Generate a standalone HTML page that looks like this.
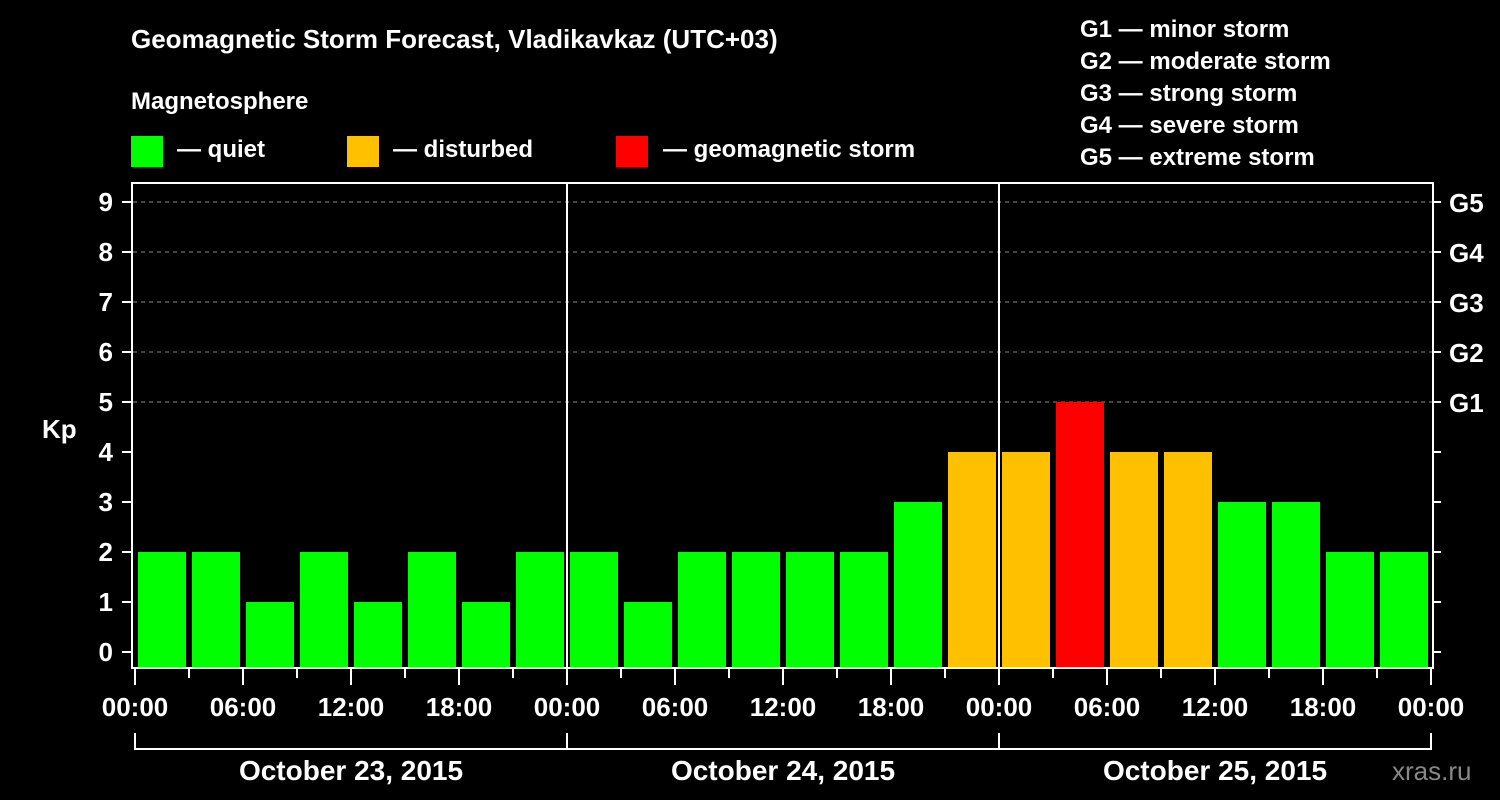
<!DOCTYPE html>
<html><head><meta charset="utf-8"><style>
body{margin:0;background:#000;width:1500px;height:800px;overflow:hidden}
svg{display:block;font-family:"Liberation Sans",Arial,sans-serif;font-weight:bold}
</style></head><body>
<svg id="c" width="1500" height="800" viewBox="0 0 1500 800" xmlns="http://www.w3.org/2000/svg">
<rect width="1500" height="800" fill="#000"/>
<text x="131" y="48" fill="#fff" font-size="26">Geomagnetic Storm Forecast, Vladikavkaz (UTC+03)</text>
<text x="131" y="109" fill="#fff" font-size="24">Magnetosphere</text>
<g font-size="24" fill="#fff">
<rect x="131" y="136" width="32" height="31" fill="#00ff00"/>
<text x="177" y="157">— quiet</text>
<rect x="347" y="136" width="32" height="31" fill="#ffc000"/>
<text x="393" y="157">— disturbed</text>
<rect x="616" y="136" width="32" height="31" fill="#ff0000"/>
<text x="663" y="157">— geomagnetic storm</text>
</g>
<g font-size="24" fill="#fff">
<text x="1080" y="37">G1 — minor storm</text>
<text x="1080" y="69">G2 — moderate storm</text>
<text x="1080" y="101">G3 — strong storm</text>
<text x="1080" y="133">G4 — severe storm</text>
<text x="1080" y="165">G5 — extreme storm</text>
</g>
<g id="grid"></g>
<g id="bars"></g>
<rect x="132" y="183" width="1301" height="485" fill="none" stroke="#fff" stroke-width="2"/>
<g id="axes"></g>
<text x="42" y="438" fill="#fff" font-size="26">Kp</text>
<text x="1392" y="780" fill="#888" font-size="26" font-weight="normal">xras.ru</text>
</svg>
<script>
const kpValues=[2,2,1,2,1,2,1,2, 2,1,2,2,2,2,3,4, 4,5,4,4,3,3,2,2];
const kpTicks=[0,1,2,3,4,5,6,7,8,9];
const gLabels=["G1","G2","G3","G4","G5"];
const hourLabels=["00:00","06:00","12:00","18:00"];
const dayLabels=["October 23, 2015","October 24, 2015","October 25, 2015"];
const NS="http://www.w3.org/2000/svg";
const x0=135, dayW=432, slotW=dayW/8;
const yScale=v=>652-50*v;
const xScale=i=>x0+i*slotW;
function mk(t,a,p){const e=document.createElementNS(NS,t);for(const k in a)e.setAttribute(k,a[k]);p.appendChild(e);return e;}
const grid=document.getElementById('grid'),bars=document.getElementById('bars'),axes=document.getElementById('axes');
function col(v){return v>=5?"#ff0000":v>=4?"#ffc000":"#00ff00";}
kpTicks.forEach(v=>{
  const y=yScale(v);
  if(v>=5){const l=mk('line',{x1:133,x2:1432,y1:y,y2:y,stroke:'#888','stroke-dasharray':'4,4','stroke-width':1},grid);
  
  }
  const t=mk('line',{x1:122,x2:132,y1:y,y2:y,stroke:'#fff','stroke-width':2},axes);
  
  
  const r=mk('line',{x1:1433,x2:1441,y1:y,y2:y,stroke:'#fff','stroke-width':2},axes);
  
  
  const tx=mk('text',{x:113,y:y+9,fill:'#fff','font-size':26,'text-anchor':'end'},axes);
  tx.textContent=v;
  
  
});
gLabels.forEach((g,i)=>{
  const tx=mk('text',{x:1449,y:yScale(5+i)+10,fill:'#fff','font-size':26},axes);
  tx.textContent=g;
  
  
});
kpValues.forEach((v,i)=>{
  const y=yScale(v);
  const b=mk('rect',{x:xScale(i)+3,y:y,width:48,height:668-y,fill:col(v)},bars);
  
  
});
for(let d=1;d<3;d++){const l=mk('line',{x1:x0+d*dayW,x2:x0+d*dayW,y1:183,y2:668,stroke:'#fff','stroke-width':2},axes);
  
  }
for(let i=0;i<=24;i++){
  const x=xScale(i),major=i%2==0;
  const t=mk('line',{x1:x,x2:x,y1:669,y2:major?685:678,stroke:'#fff','stroke-width':2},axes);
  
  
  if(major){const tx=mk('text',{x:x,y:716,fill:'#fff','font-size':26,'text-anchor':'middle'},axes);
    tx.textContent=hourLabels[(i/2)%4];
    
    }
}
const br=mk('path',{d:`M${x0} 733V749H${x0+3*dayW}V733M${x0+dayW} 733V749M${x0+2*dayW} 733V749`,stroke:'#fff','stroke-width':2,fill:'none'},axes);


dayLabels.forEach((d,i)=>{
  const tx=mk('text',{x:x0+dayW*(i+0.5),y:780,fill:'#fff','font-size':28,'text-anchor':'middle'},axes);
  tx.textContent=d;
  
  
});
</script>
</body></html>
